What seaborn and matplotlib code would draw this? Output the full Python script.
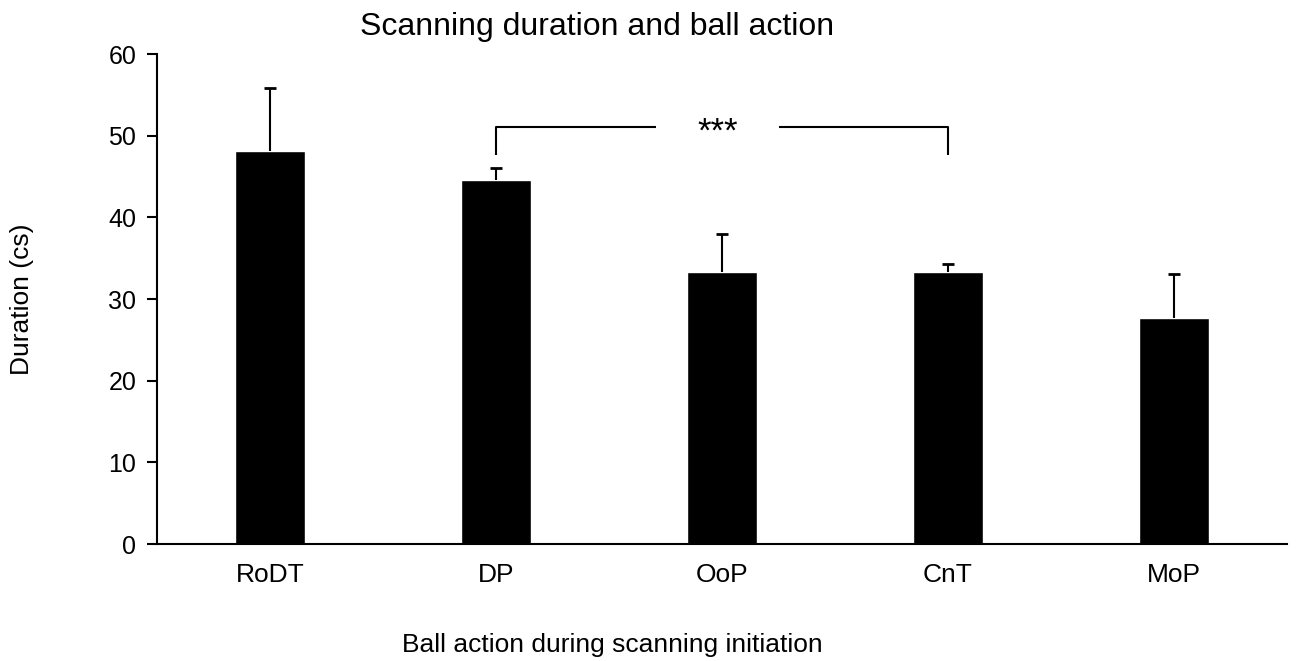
import numpy as np
import pandas as pd
import seaborn as sns
import matplotlib.pyplot as plt

sns.set_style('white')
plt.rcParams['font.family'] = ['Liberation Sans', 'DejaVu Sans']
plt.rcParams['text.color'] = 'black'
plt.rcParams['xtick.color'] = 'black'
plt.rcParams['ytick.color'] = 'black'

# 数据
actions = ['RoDT', 'DP', 'OoP', 'CnT', 'MoP']
duration = [48.2, 44.6, 33.3, 33.3, 27.7]
err_upper = [7.6, 1.5, 4.7, 1.0, 5.4]

df = pd.DataFrame({'action': actions, 'duration': duration})

fig = plt.figure(figsize=(12.98, 6.61), dpi=100)
ax = fig.add_axes([0.121, 0.177, 0.8705, 0.741])

sns.barplot(data=df, x='action', y='duration', color='black', width=0.31,
            saturation=1, errorbar=None, ax=ax)
eb = ax.errorbar(np.arange(len(actions)), duration,
                 yerr=[np.zeros(len(actions)), err_upper],
                 fmt='none', ecolor='black', elinewidth=1.5, capsize=4.5, capthick=2)
# 只保留上方的误差帽
eb[1][0].set_visible(False)

ax.set_ylim(0, 60)
ax.set_xlim(-0.5, len(actions) - 0.5)
ax.set_yticks(range(0, 61, 10))
ax.set_xlabel('')
ax.set_ylabel('')
for s in ['top', 'right']:
    ax.spines[s].set_visible(False)
for s in ['left', 'bottom']:
    ax.spines[s].set_linewidth(1.5)
    ax.spines[s].set_color('black')

# 类别间的刻度（Excel 风格）
ax.set_xticks(np.arange(-0.5, len(actions)), minor=True)
ax.tick_params(axis='x', which='major', length=0, labelsize=19, pad=14)
ax.tick_params(axis='x', which='minor', direction='out', length=7, width=1.5, color='black')
ax.tick_params(axis='y', direction='out', length=7, width=1.5, color='black', labelsize=18, pad=8)
ax.tick_params(left=True, bottom=True)

# 显著性括号 DP vs CnT
x1, x2 = actions.index('DP'), actions.index('CnT')
y_top, y_low = 51.1, 47.7
kw = dict(color='black', lw=1.5, solid_capstyle='butt')
ax.plot([x1, x1, 1.71], [y_low, y_top, y_top], **kw)
ax.plot([2.25, x2, x2], [y_top, y_top, y_low], **kw)
ax.text(1.98, y_top - 0.6, '***', ha='center', va='center', fontsize=25)

fig.text(597 / 1298, 1 - 27 / 661, 'Scanning duration and ball action',
         ha='center', va='center', fontsize=23)
fig.text(612 / 1298, 1 - 645 / 661, 'Ball action during scanning initiation',
         ha='center', va='center', fontsize=19)
fig.text(22 / 1298, 1 - 299 / 661, 'Duration (cs)', rotation=90,
         ha='center', va='center', fontsize=19)

fig.savefig('out.png', dpi=100, facecolor='white')
